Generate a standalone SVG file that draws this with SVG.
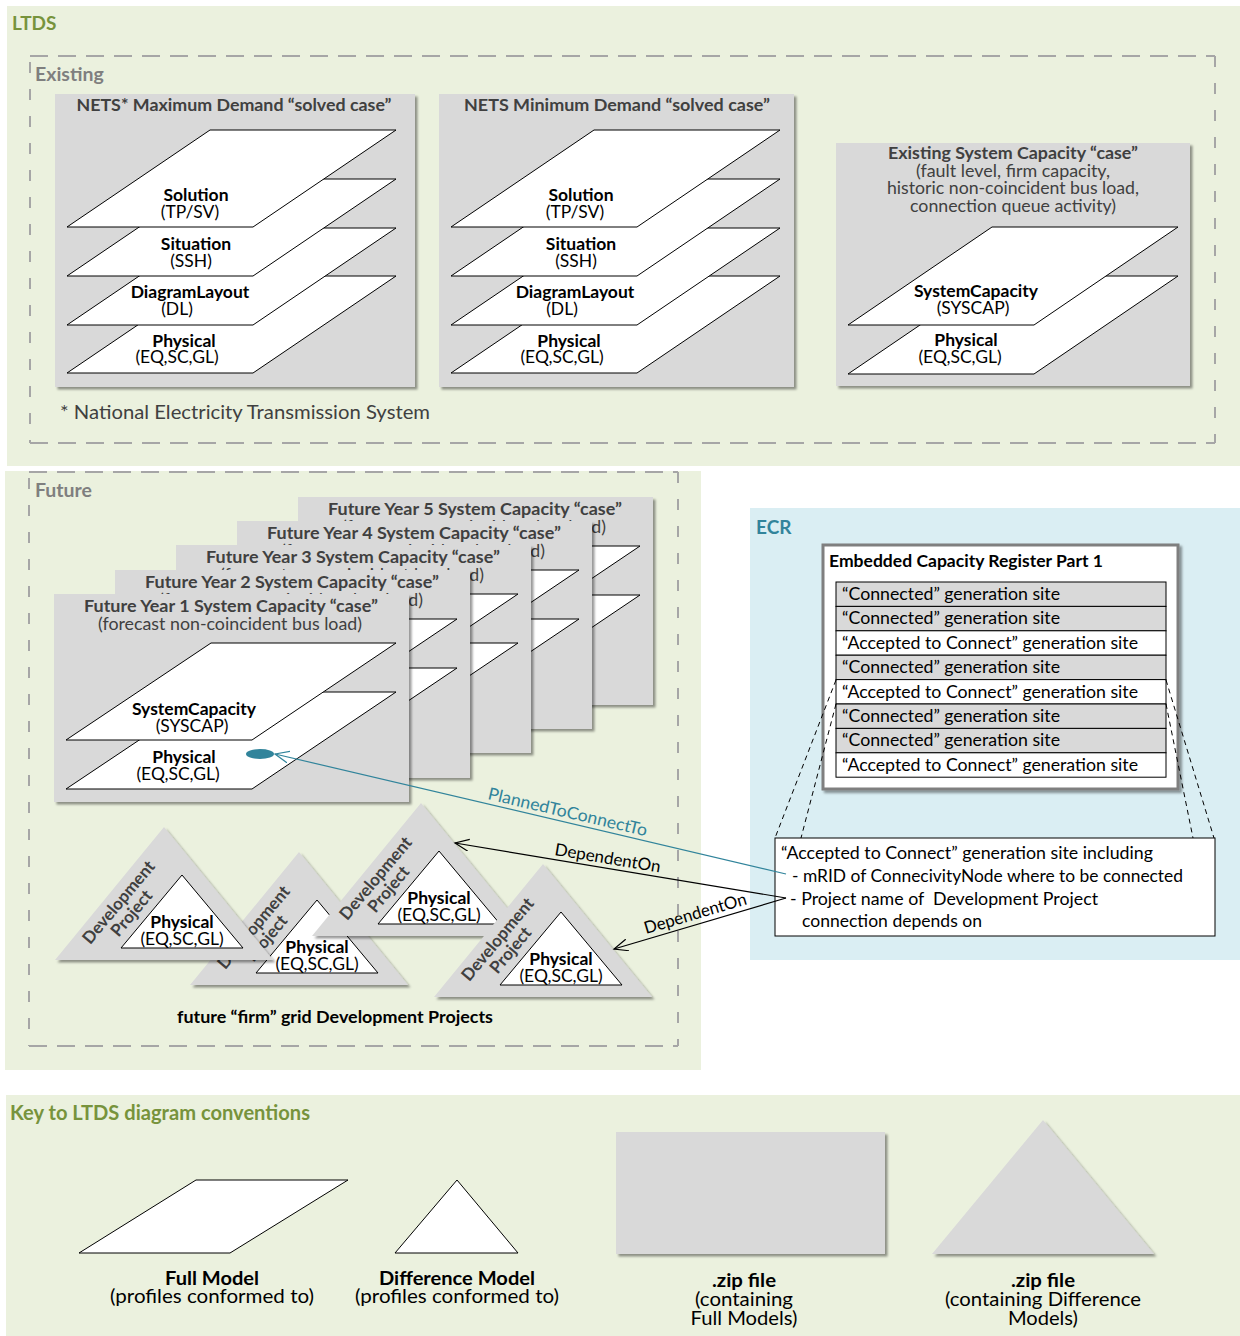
<svg xmlns="http://www.w3.org/2000/svg" width="1240" height="1336" viewBox="0 0 1240 1336">
<defs>
<style>
text{font-family:Lato,"Liberation Sans","DejaVu Sans",sans-serif}
.grn{fill:#ebf1de}
.card{fill:#d9d9d9;filter:url(#sh)}
.lay{fill:#fff;stroke:#000;stroke-width:1}
.ttl{font-size:17.5px;font-weight:bold;fill:#404040;text-anchor:middle}
.sub{font-size:17.5px;fill:#404040;text-anchor:middle}
.lb{font-size:17.5px;font-weight:bold;fill:#000;text-anchor:middle}
.ls{font-size:17.5px;fill:#000;text-anchor:middle}
.dsh{stroke:#a6a6a6;stroke-width:2;fill:none}
.dh{stroke-dasharray:18 10}
.dv{stroke-dasharray:11 16}
.sec{font-size:19.5px;font-weight:bold;fill:#7f7f7f}
.gt{font-size:19px;font-weight:bold;fill:#77933c}
.tri{fill:#d9d9d9;filter:url(#sh)}
.dev{font-size:17px;font-weight:bold;fill:#404040;text-anchor:middle}
.row{stroke:#000;stroke-width:1}
.rc{fill:#d9d9d9}
.ra{fill:#fff}
.rt{font-size:17.5px;fill:#000}
.it{font-size:17px;fill:#000;white-space:pre}
.kb{font-size:19.5px;font-weight:bold;fill:#000;text-anchor:middle}
.kr{font-size:19.5px;fill:#000;text-anchor:middle}
.cl{font-size:17px;fill:#000}
</style>
<filter id="sh" x="-5%" y="-5%" width="115%" height="115%">
<feDropShadow dx="2.5" dy="2.5" stdDeviation="1.3" flood-color="#000" flood-opacity="0.4"/>
</filter>
<marker id="arrK" markerUnits="userSpaceOnUse" markerWidth="16" markerHeight="14" refX="14" refY="6" orient="auto"><path d="M0,0 L14,6 L0,12" fill="none" stroke="#000" stroke-width="1.2"/></marker>
<marker id="arrT" markerUnits="userSpaceOnUse" markerWidth="16" markerHeight="14" refX="14" refY="6" orient="auto"><path d="M0,0 L14,6 L0,12" fill="none" stroke="#31849b" stroke-width="1.2"/></marker>
</defs>

<rect x="0" y="0" width="1240" height="1336" fill="#fff"/>

<g id="regions">
<rect class="grn" x="7" y="6" width="1233" height="460"/>
<rect class="grn" x="5" y="471" width="696" height="599"/>
<rect x="750" y="508" width="490" height="452" fill="#daeef3"/>
<rect class="grn" x="6" y="1095" width="1234" height="241"/>
<text class="gt" x="12" y="30">LTDS</text>
<text x="756" y="534" style="font-size:19px;font-weight:bold;fill:#31849b">ECR</text>
<text class="gt" x="10" y="1120" style="font-size:20px" textLength="300" lengthAdjust="spacingAndGlyphs">Key to LTDS diagram conventions</text>
</g>

<g id="existing">
<line class="dsh dh" x1="30" y1="56" x2="1215" y2="56"/>
<line class="dsh dh" x1="30" y1="443" x2="1215" y2="443"/>
<line class="dsh dv" x1="30" y1="62" x2="30" y2="443"/>
<line class="dsh dv" x1="1215" y1="56" x2="1215" y2="443"/>
<text class="sec" x="35" y="81">Existing</text>
<text x="60" y="419" style="font-size:19px;fill:#404040" textLength="370" lengthAdjust="spacingAndGlyphs">* National Electricity Transmission System</text>
</g>

<g id="nets-max" transform="translate(55,94)">
<rect class="card" x="0" y="0" width="360" height="293"/>
<text class="ttl" x="179" y="17" textLength="315" lengthAdjust="spacingAndGlyphs">NETS* Maximum Demand “solved case”</text>
<polygon class="lay" points="155,182 341,182 198,279 12,279"/>
<polygon class="lay" points="155,134 341,134 198,231 12,231"/>
<polygon class="lay" points="155,85 341,85 198,182 12,182"/>
<polygon class="lay" points="155,36 341,36 198,133 12,133"/>
<text class="lb" x="141" y="107">Solution</text>
<text class="ls" x="135" y="124">(TP/SV)</text>
<text class="lb" x="141" y="156">Situation</text>
<text class="ls" x="136" y="173">(SSH)</text>
<text class="lb" x="135" y="204">DiagramLayout</text>
<text class="ls" x="122" y="221">(DL)</text>
<text class="lb" x="129" y="253">Physical</text>
<text class="ls" x="122" y="269">(EQ,SC,GL)</text>
</g>

<g id="nets-min" transform="translate(439,94)">
<rect class="card" x="0" y="0" width="355" height="293"/>
<text class="ttl" x="178" y="17" textLength="306" lengthAdjust="spacingAndGlyphs">NETS Minimum Demand “solved case”</text>
<polygon class="lay" points="155,182 341,182 198,279 12,279"/>
<polygon class="lay" points="155,134 341,134 198,231 12,231"/>
<polygon class="lay" points="155,85 341,85 198,182 12,182"/>
<polygon class="lay" points="155,36 341,36 198,133 12,133"/>
<text class="lb" x="142" y="107">Solution</text>
<text class="ls" x="136" y="124">(TP/SV)</text>
<text class="lb" x="142" y="156">Situation</text>
<text class="ls" x="137" y="173">(SSH)</text>
<text class="lb" x="136" y="204">DiagramLayout</text>
<text class="ls" x="123" y="221">(DL)</text>
<text class="lb" x="130" y="253">Physical</text>
<text class="ls" x="123" y="269">(EQ,SC,GL)</text>
</g>

<g id="existing-syscap" transform="translate(836,143)">
<rect class="card" x="0" y="0" width="354" height="243"/>
<text class="ttl" x="177" y="16" textLength="250" lengthAdjust="spacingAndGlyphs">Existing System Capacity “case”</text>
<text class="sub" x="177" y="34" textLength="194" lengthAdjust="spacingAndGlyphs">(fault level, firm capacity,</text>
<text class="sub" x="177" y="51" textLength="252" lengthAdjust="spacingAndGlyphs">historic non-coincident bus load,</text>
<text class="sub" x="177" y="69" textLength="206" lengthAdjust="spacingAndGlyphs">connection queue activity)</text>
<polygon class="lay" points="156,133 342,133 198,231 12,231"/>
<polygon class="lay" points="156,84 342,84 198,182 12,182"/>
<text class="lb" x="140" y="154">SystemCapacity</text>
<text class="ls" x="137" y="171">(SYSCAP)</text>
<text class="lb" x="130" y="203">Physical</text>
<text class="ls" x="124" y="220">(EQ,SC,GL)</text>
</g>

<g id="future">
<line class="dsh dh" x1="29" y1="472" x2="678" y2="472"/>
<line class="dsh dh" x1="29" y1="1046" x2="678" y2="1046"/>
<line class="dsh dv" x1="29" y1="478" x2="29" y2="1046"/>
<line class="dsh dv" x1="678" y1="472" x2="678" y2="1046"/>
<text class="sec" x="35" y="497">Future</text>
<text class="lb" x="335" y="1023" textLength="316" lengthAdjust="spacingAndGlyphs">future “firm” grid Development Projects</text>
</g>

<g id="fy5" transform="translate(298,497)">
<rect class="card" x="0" y="0" width="355" height="208"/>
<text class="ttl" x="177" y="18" textLength="294" lengthAdjust="spacingAndGlyphs">Future Year 5 System Capacity “case”</text>
<text class="sub" x="176" y="36" textLength="264" lengthAdjust="spacingAndGlyphs">(forecast non-coincident bus load)</text>
<polygon class="lay" points="157,98 342,98 198,195 12,195"/>
<polygon class="lay" points="157,49 342,49 198,146 12,146"/>
</g>
<g id="fy4" transform="translate(237,521)">
<rect class="card" x="0" y="0" width="355" height="208"/>
<text class="ttl" x="177" y="18" textLength="294" lengthAdjust="spacingAndGlyphs">Future Year 4 System Capacity “case”</text>
<text class="sub" x="176" y="36" textLength="264" lengthAdjust="spacingAndGlyphs">(forecast non-coincident bus load)</text>
<polygon class="lay" points="157,98 342,98 198,195 12,195"/>
<polygon class="lay" points="157,49 342,49 198,146 12,146"/>
</g>
<g id="fy3" transform="translate(176,545)">
<rect class="card" x="0" y="0" width="355" height="208"/>
<text class="ttl" x="177" y="18" textLength="294" lengthAdjust="spacingAndGlyphs">Future Year 3 System Capacity “case”</text>
<text class="sub" x="176" y="36" textLength="264" lengthAdjust="spacingAndGlyphs">(forecast non-coincident bus load)</text>
<polygon class="lay" points="157,98 342,98 198,195 12,195"/>
<polygon class="lay" points="157,49 342,49 198,146 12,146"/>
</g>
<g id="fy2" transform="translate(115,570)">
<rect class="card" x="0" y="0" width="355" height="208"/>
<text class="ttl" x="177" y="18" textLength="294" lengthAdjust="spacingAndGlyphs">Future Year 2 System Capacity “case”</text>
<text class="sub" x="176" y="36" textLength="264" lengthAdjust="spacingAndGlyphs">(forecast non-coincident bus load)</text>
<polygon class="lay" points="157,98 342,98 198,195 12,195"/>
<polygon class="lay" points="157,49 342,49 198,146 12,146"/>
</g>
<g id="fy1" transform="translate(54,594)">
<rect class="card" x="0" y="0" width="355" height="208"/>
<text class="ttl" x="177" y="18" textLength="294" lengthAdjust="spacingAndGlyphs">Future Year 1 System Capacity “case”</text>
<text class="sub" x="176" y="36" textLength="264" lengthAdjust="spacingAndGlyphs">(forecast non-coincident bus load)</text>
<polygon class="lay" points="157,98 342,98 198,195 12,195"/>
<polygon class="lay" points="157,49 342,49 198,146 12,146"/>
<text class="lb" x="140" y="121">SystemCapacity</text>
<text class="ls" x="138" y="138">(SYSCAP)</text>
<text class="lb" x="130" y="169">Physical</text>
<text class="ls" x="124" y="186">(EQ,SC,GL)</text>
<ellipse cx="206" cy="160" rx="14" ry="5" fill="#31849b"/>
</g>

<g id="devproj-b" transform="translate(299,852)">
<polygon class="tri" points="0,0 -109,133 109,133"/>
<polygon class="lay" points="18,48 -43,121 79,121"/>
<text class="dev" transform="translate(-41,79) rotate(-50)">Development</text>
<text class="dev" transform="translate(-28,90) rotate(-50)">Project</text>
<text class="lb" x="18" y="101">Physical</text>
<text class="ls" x="18" y="118">(EQ,SC,GL)</text>
</g>
<g id="devproj-a" transform="translate(164,827)">
<polygon class="tri" points="0,0 -109,133 109,133"/>
<polygon class="lay" points="18,48 -43,121 79,121"/>
<text class="dev" transform="translate(-41,79) rotate(-50)">Development</text>
<text class="dev" transform="translate(-28,90) rotate(-50)">Project</text>
<text class="lb" x="18" y="101">Physical</text>
<text class="ls" x="18" y="118">(EQ,SC,GL)</text>
</g>
<g id="devproj-c" transform="translate(421,803)">
<polygon class="tri" points="0,0 -109,133 109,133"/>
<polygon class="lay" points="18,48 -43,121 79,121"/>
<text class="dev" transform="translate(-41,79) rotate(-50)">Development</text>
<text class="dev" transform="translate(-28,90) rotate(-50)">Project</text>
<text class="lb" x="18" y="101">Physical</text>
<text class="ls" x="18" y="118">(EQ,SC,GL)</text>
</g>
<g id="devproj-d" transform="translate(543,864)">
<polygon class="tri" points="0,0 -109,133 109,133"/>
<polygon class="lay" points="18,48 -43,121 79,121"/>
<text class="dev" transform="translate(-41,79) rotate(-50)">Development</text>
<text class="dev" transform="translate(-28,90) rotate(-50)">Project</text>
<text class="lb" x="18" y="101">Physical</text>
<text class="ls" x="18" y="118">(EQ,SC,GL)</text>
</g>

<g id="ecr-register">
<rect x="823" y="545" width="355" height="244" fill="#fff" stroke="#7f7f7f" stroke-width="3" filter="url(#sh)"/>
<text x="829" y="567" style="font-size:17px;font-weight:bold;fill:#000" textLength="274" lengthAdjust="spacingAndGlyphs">Embedded Capacity Register Part 1</text>
<rect class="row rc" x="836" y="582" width="330" height="24.4"/>
<rect class="row rc" x="836" y="606.4" width="330" height="24.4"/>
<rect class="row ra" x="836" y="630.8" width="330" height="24.4"/>
<rect class="row rc" x="836" y="655.2" width="330" height="24.4"/>
<rect class="row ra" x="836" y="679.6" width="330" height="24.4"/>
<rect class="row rc" x="836" y="704" width="330" height="24.4"/>
<rect class="row rc" x="836" y="728.4" width="330" height="24.4"/>
<rect class="row ra" x="836" y="752.8" width="330" height="24.4"/>
<text class="rt" x="842" y="600" textLength="218" lengthAdjust="spacingAndGlyphs">“Connected” generation site</text>
<text class="rt" x="842" y="624.4" textLength="218" lengthAdjust="spacingAndGlyphs">“Connected” generation site</text>
<text class="rt" x="842" y="648.8" textLength="296" lengthAdjust="spacingAndGlyphs">“Accepted to Connect” generation site</text>
<text class="rt" x="842" y="673.2" textLength="218" lengthAdjust="spacingAndGlyphs">“Connected” generation site</text>
<text class="rt" x="842" y="697.6" textLength="296" lengthAdjust="spacingAndGlyphs">“Accepted to Connect” generation site</text>
<text class="rt" x="842" y="722" textLength="218" lengthAdjust="spacingAndGlyphs">“Connected” generation site</text>
<text class="rt" x="842" y="746.4" textLength="218" lengthAdjust="spacingAndGlyphs">“Connected” generation site</text>
<text class="rt" x="842" y="770.8" textLength="296" lengthAdjust="spacingAndGlyphs">“Accepted to Connect” generation site</text>
</g>

<g id="ecr-detail">
<rect x="775" y="838" width="440" height="98" fill="#fff" stroke="#000" stroke-width="1"/>
<text class="it" x="781" y="859" textLength="372" lengthAdjust="spacingAndGlyphs">“Accepted to Connect” generation site including</text>
<text class="it" x="792" y="882" textLength="391" lengthAdjust="spacingAndGlyphs">- mRID of ConnecivityNode where to be connected</text>
<text class="it" x="790" y="905" textLength="308" lengthAdjust="spacingAndGlyphs">- Project name of  Development Project</text>
<text class="it" x="802" y="927" textLength="180" lengthAdjust="spacingAndGlyphs">connection depends on</text>
</g>

<g id="connectors">
<g stroke="#000" stroke-width="1" stroke-dasharray="5 4" fill="none">
<line x1="836" y1="680" x2="775" y2="838"/>
<line x1="836" y1="704" x2="801" y2="838"/>
<line x1="1166" y1="680" x2="1214" y2="838"/>
<line x1="1166" y1="704" x2="1193" y2="838"/>
</g>
<line x1="786" y1="874" x2="275" y2="754" stroke="#31849b" stroke-width="1.2" marker-end="url(#arrT)"/>
<line x1="786" y1="898" x2="455" y2="843" stroke="#000" stroke-width="1.2" marker-end="url(#arrK)"/>
<line x1="786" y1="898" x2="614" y2="949" stroke="#000" stroke-width="1.2" marker-end="url(#arrK)"/>
<text class="cl" transform="translate(487,799) rotate(13.2)" style="fill:#31849b" textLength="163" lengthAdjust="spacingAndGlyphs">PlannedToConnectTo</text>
<text class="cl" transform="translate(554,855) rotate(9.4)" textLength="107" lengthAdjust="spacingAndGlyphs">DependentOn</text>
<text class="cl" transform="translate(646,934) rotate(-16.4)" textLength="106" lengthAdjust="spacingAndGlyphs">DependentOn</text>
</g>

<g id="key-full-model">
<polygon class="lay" points="196,1180 348,1180 230,1253 79,1253"/>
<text class="kb" x="212" y="1285" textLength="94" lengthAdjust="spacingAndGlyphs">Full Model</text>
<text class="kr" x="212" y="1303" textLength="204" lengthAdjust="spacingAndGlyphs">(profiles conformed to)</text>
</g>
<g id="key-diff-model">
<polygon class="lay" points="457,1180 395,1253 518,1253"/>
<text class="kb" x="457" y="1285" textLength="156" lengthAdjust="spacingAndGlyphs">Difference Model</text>
<text class="kr" x="457" y="1303" textLength="204" lengthAdjust="spacingAndGlyphs">(profiles conformed to)</text>
</g>
<g id="key-zip-full">
<rect class="card" x="616" y="1132" width="269" height="122"/>
<text class="kb" x="744" y="1287" textLength="64" lengthAdjust="spacingAndGlyphs">.zip file</text>
<text class="kr" x="744" y="1306" textLength="98" lengthAdjust="spacingAndGlyphs">(containing</text>
<text class="kr" x="744" y="1325" textLength="107" lengthAdjust="spacingAndGlyphs">Full Models)</text>
</g>
<g id="key-zip-diff">
<polygon class="tri" points="1043,1120 932,1254 1154,1254"/>
<text class="kb" x="1043" y="1287" textLength="64" lengthAdjust="spacingAndGlyphs">.zip file</text>
<text class="kr" x="1043" y="1306" textLength="196" lengthAdjust="spacingAndGlyphs">(containing Difference</text>
<text class="kr" x="1043" y="1325" textLength="70" lengthAdjust="spacingAndGlyphs">Models)</text>
</g>
</svg>
